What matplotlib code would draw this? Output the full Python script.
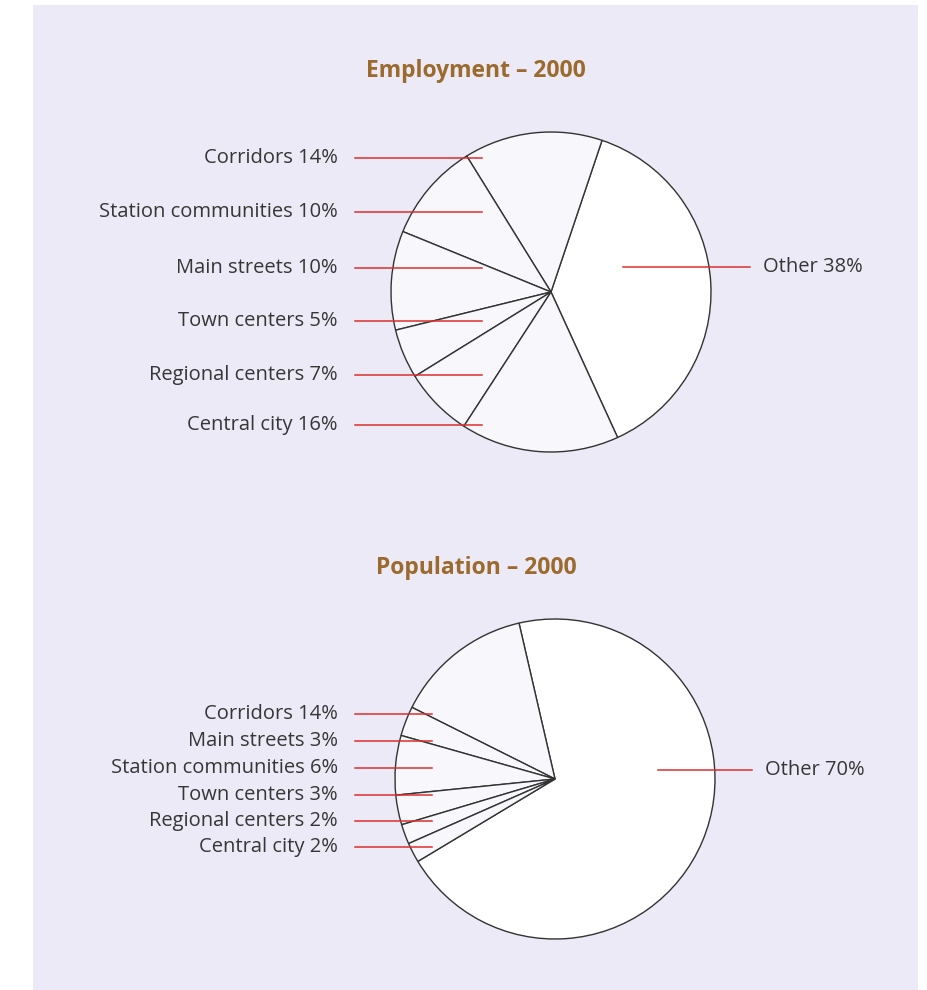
import matplotlib

matplotlib.use("Agg")

import matplotlib.pyplot as plt
from matplotlib.patches import Rectangle

plt.rcParams["font.family"] = ["Open Sans", "DejaVu Sans"]

# Employment shares, 2000 (counterclockwise from "Other")
emp_labels = ["Other", "Corridors", "Station communities", "Main streets",
              "Town centers", "Regional centers", "Central city"]
emp_share = [38, 14, 10, 10, 5, 7, 16]

# Population shares, 2000
pop_labels = ["Other", "Corridors", "Main streets", "Station communities",
              "Town centers", "Regional centers", "Central city"]
pop_share = [70, 14, 3, 6, 3, 2, 2]

W, H = 927, 990
BG = "#ebeaf6"
TITLE_COLOR = "#9b6a2c"
TEXT_COLOR = "#363636"
LEADER = "#dc2f2f"
EDGE = "#333333"
LABEL_SIZE = 14.5


def py(y):
    """Convert a top-down pixel row to data y."""
    return H - y


def draw_pie(ax, title, labels, shares, center, radius, start,
             title_y, left_rows, left_line_end, other_row, other_line):
    cx, cy = center
    colors = ["white"] + ["#f7f7fc"] * (len(shares) - 1)
    ax.pie(shares, colors=colors, startangle=start, counterclock=True,
           center=(cx, py(cy)), radius=radius, frame=True,
           wedgeprops=dict(edgecolor=EDGE, linewidth=1.0))

    ax.text(476, py(title_y), title, ha="center", va="center",
            fontsize=16.5, fontweight="bold", color=TITLE_COLOR)

    # the small categories are listed down the left side, top to bottom
    for name, share, row in zip(labels[1:], shares[1:], left_rows):
        ax.plot([355, left_line_end], [py(row), py(row)], color=LEADER,
                linewidth=1.1, zorder=5)
        ax.text(338, py(row), f"{name} {share}%", ha="right", va="center",
                fontsize=LABEL_SIZE, color=TEXT_COLOR)

    x0, x1 = other_line
    ax.plot([x0, x1], [py(other_row), py(other_row)], color=LEADER,
            linewidth=1.1, zorder=5)
    ax.text(x1 + 13, py(other_row), f"{labels[0]} {shares[0]}%",
            ha="left", va="center", fontsize=LABEL_SIZE, color=TEXT_COLOR)


fig = plt.figure(figsize=(W / 100, H / 100), dpi=100)
fig.patch.set_facecolor("white")
ax = fig.add_axes([0, 0, 1, 1])

ax.add_patch(Rectangle((33, 0), 885, H - 5, facecolor=BG, edgecolor="none",
                       zorder=0))

# employment pie: other starts at the lower right and runs counterclockwise
emp_start = 71.4 - 360 * emp_share[0] / 100
draw_pie(ax, "Employment \u2013 2000", emp_labels, emp_share,
         center=(551, 292), radius=160, start=emp_start, title_y=71,
         left_rows=[158, 212, 268, 321, 375, 425], left_line_end=482,
         other_row=267, other_line=(623, 750))

pop_start = 103 - 360 * pop_share[0] / 100
draw_pie(ax, "Population \u2013 2000", pop_labels, pop_share,
         center=(555, 779), radius=160, start=pop_start, title_y=568,
         left_rows=[714, 741, 768, 795, 821, 847], left_line_end=432,
         other_row=770, other_line=(658, 752))

ax.set_xlim(0, W)
ax.set_ylim(0, H)
ax.set_aspect("equal")
ax.axis("off")

fig.savefig("out.png", dpi=100)
plt.close(fig)
